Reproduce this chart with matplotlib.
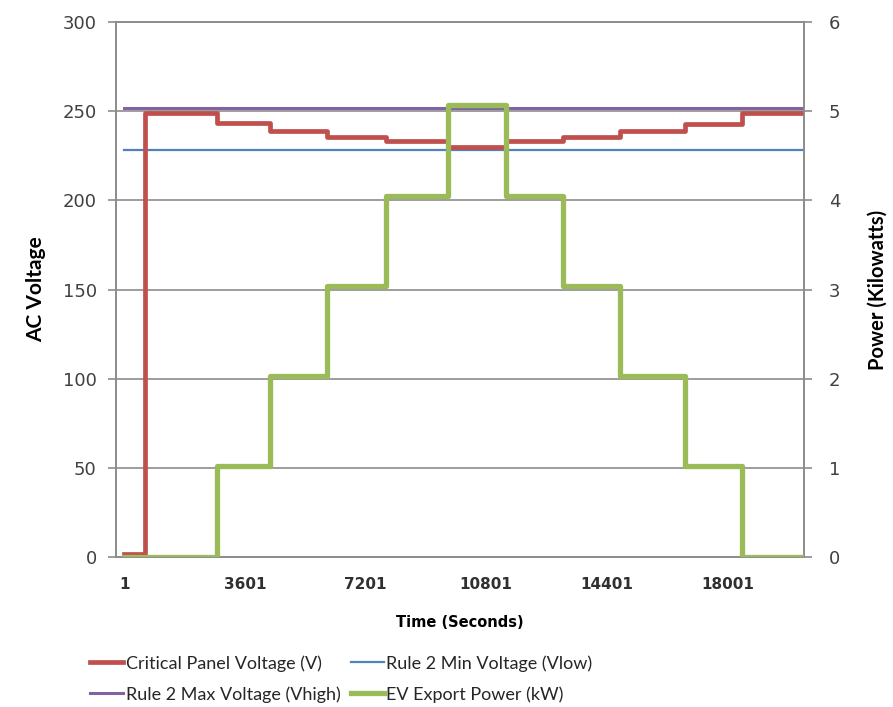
"""EV export power vs critical panel voltage, recreated from an Excel-style chart."""

import matplotlib
matplotlib.use("Agg")
import matplotlib.pyplot as plt

# step edges (seconds) shared by the voltage and power traces
step_times = [1, 600, 2750, 4350, 6050, 7800, 9650, 11400, 13100, 14800, 16750, 18450, 20280]

# critical panel voltage (V) held between consecutive step edges
panel_voltage = [2, 249, 243.5, 238.7, 235.3, 233, 230, 233, 235.5, 238.8, 243, 249]

# EV export power (kW) held between consecutive step edges
ev_power = [0, 0, 1.02, 2.03, 3.04, 4.05, 5.07, 4.05, 3.04, 2.03, 1.02, 0]

v_low = 228
v_high = 252

x_ticks = [1, 3601, 7201, 10801, 14401, 18001]
v_ticks = [0, 50, 100, 150, 200, 250, 300]
p_ticks = [0, 1, 2, 3, 4, 5, 6]

RED = "#C0504D"
BLUE = "#4F81BD"
PURPLE = "#8064A2"
GREEN = "#9BBB59"
AXIS_GRAY = "#8C8C8C"
TEXT_GRAY = "#404040"

fig = plt.figure(figsize=(8.93, 7.07), dpi=100)
ax = fig.add_axes([0.130, 0.212, 0.770, 0.757])
ax2 = ax.twinx()

# step traces, value held until next edge
red_y = panel_voltage + [panel_voltage[-1]]
green_y = ev_power + [ev_power[-1]]

l_min, = ax.plot([step_times[0], step_times[-1]], [v_low, v_low], color=BLUE, lw=1.6, zorder=3)
l_max, = ax.plot([step_times[0], step_times[-1]], [v_high, v_high], color=PURPLE, lw=2.2, zorder=3)
l_crit, = ax.step(step_times, red_y, where="post", color=RED, lw=3.4, zorder=4)
l_ev, = ax2.step(step_times, green_y, where="post", color=GREEN, lw=3.8, zorder=4)

ax.set_xlim(-250, 20280)
ax.set_ylim(0, 300)
ax2.set_ylim(0, 6)

ax.set_yticks(v_ticks)
ax2.set_yticks(p_ticks)
ax.set_xticks(x_ticks)
ax.set_xticklabels([str(t) for t in x_ticks], fontweight="bold", fontsize=11, color="#303030")
ax.tick_params(axis="x", length=0, pad=14)
ax.tick_params(axis="y", labelsize=13, labelcolor=TEXT_GRAY, color=AXIS_GRAY,
               length=6, width=1.2, pad=8)
ax2.tick_params(axis="y", labelsize=13, labelcolor=TEXT_GRAY, color=AXIS_GRAY,
                length=6, width=1.2, pad=12)

ax.grid(axis="y", color=AXIS_GRAY, lw=1.2)
ax.set_axisbelow(True)
for a in (ax, ax2):
    for side in ("left", "right", "bottom", "top"):
        a.spines[side].set_color(AXIS_GRAY)
        a.spines[side].set_linewidth(1.2)

ax.set_ylabel("AC Voltage", fontsize=15, fontweight="bold", family="Lato", labelpad=12)
ax2.set_ylabel("Power (Kilowatts)", fontsize=14.5, fontweight="bold", family="Lato", labelpad=20)
ax.set_xlabel("Time (Seconds)", fontsize=10.5, fontweight="bold", labelpad=17)

fig.legend(
    [l_crit, l_max, l_min, l_ev],
    ["Critical Panel Voltage (V)", "Rule 2 Max Voltage (Vhigh)",
     "Rule 2 Min Voltage (Vlow)", "EV Export Power (kW)"],
    loc="lower left", bbox_to_anchor=(0.083, -0.017), ncol=2, frameon=False,
    prop={"family": "Lato", "size": 13}, handlelength=1.8, handletextpad=0.15,
    columnspacing=0.6, labelspacing=0.8, labelcolor="#262626",
)

plt.savefig("out.png", dpi=100)
plt.close()
